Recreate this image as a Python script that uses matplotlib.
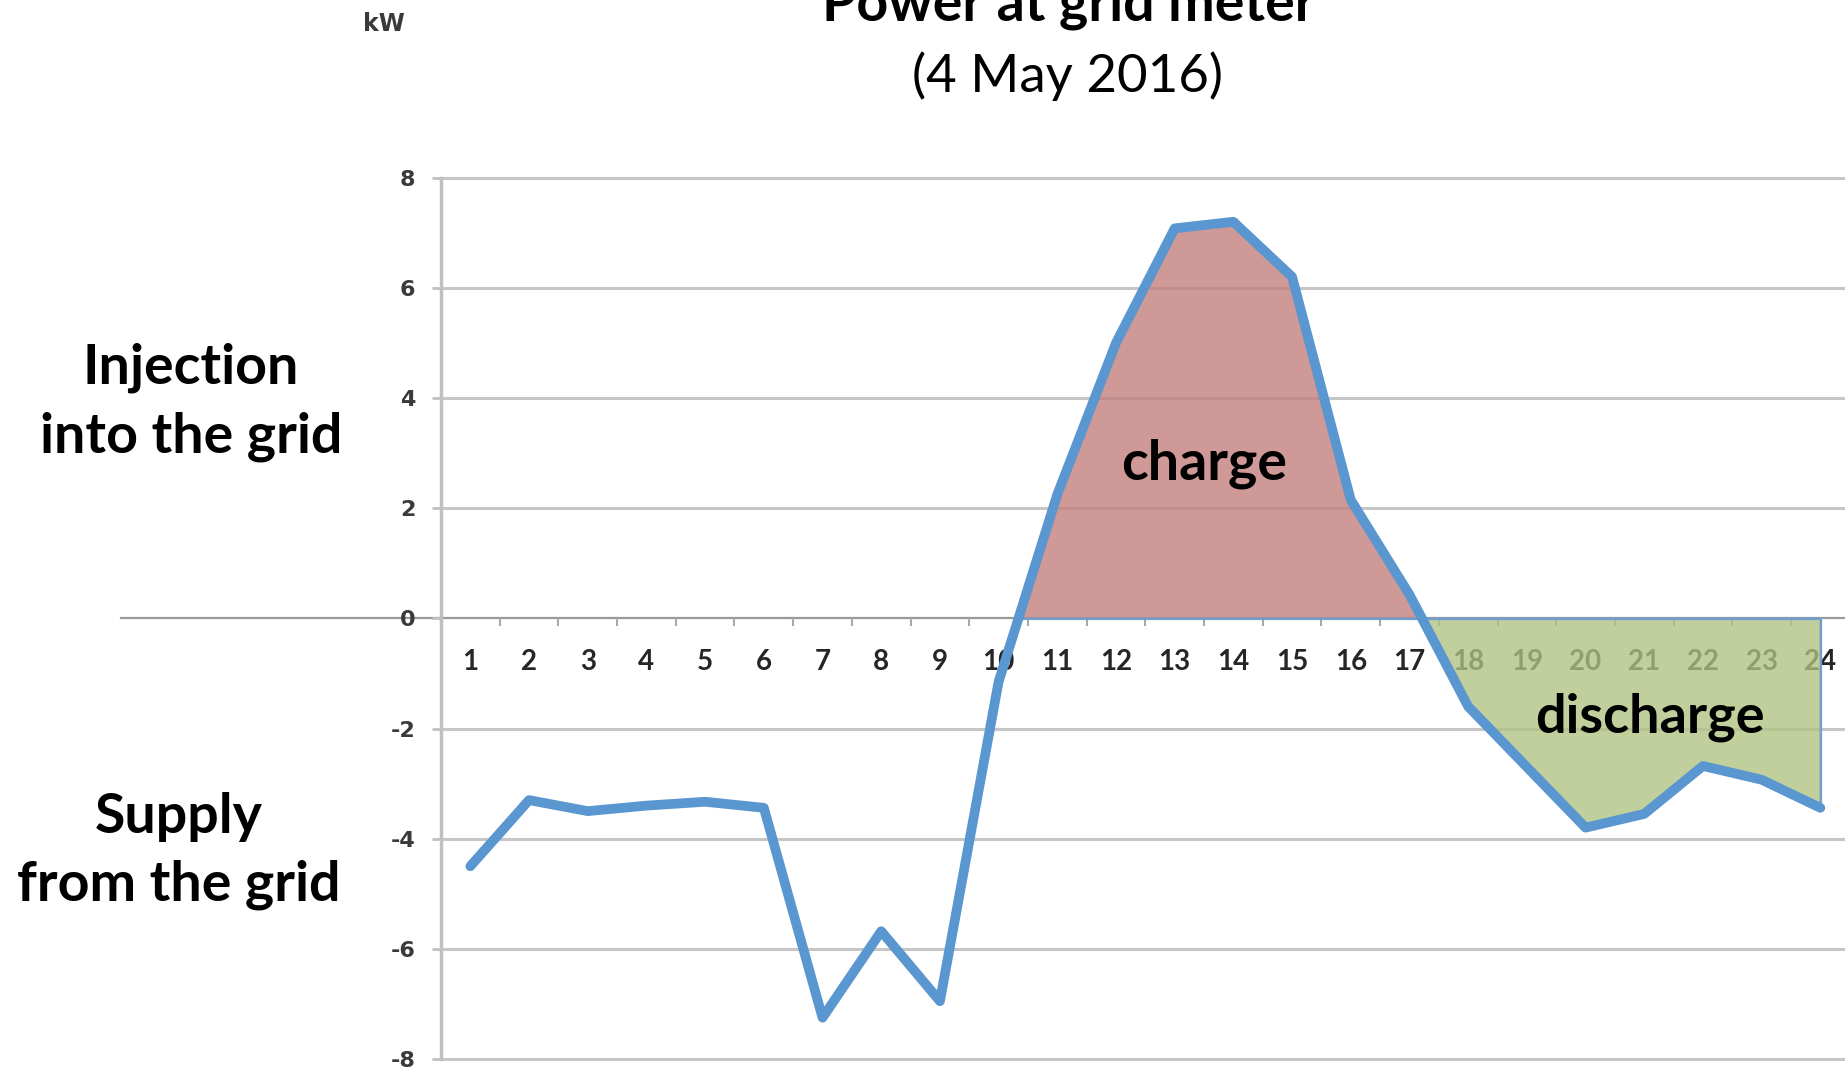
import numpy as np
import matplotlib
matplotlib.use('Agg')
import matplotlib.pyplot as plt

# hourly power at the grid meter, kW (positive = injection)
hours = np.arange(1, 25)
power = np.array([-4.5, -3.3, -3.5, -3.4, -3.33, -3.44, -7.25, -5.68, -6.95, -1.15,
                  2.25, 5.0, 7.08, 7.2, 6.2, 2.15, 0.43, -1.6, -2.7, -3.8,
                  -3.55, -2.68, -2.93, -3.44])
y_ticks = [-8, -6, -4, -2, 0, 2, 4, 6, 8]

line_blue = '#5a96cf'
grid_gray = '#c6c6c6'
font = 'Lato'

fig = plt.figure(figsize=(18.45, 10.81), dpi=100)
ax = fig.add_axes([441 / 1845, 1 - 1059 / 1081, 1 - 441 / 1845, (1059 - 177.7) / 1081])

ax.set_xlim(0.5, 24.42)
ax.set_ylim(-8, 8)

# horizontal grid (zero line drawn separately)
for v in y_ticks:
    if v != 0:
        ax.axhline(v, color=grid_gray, lw=2.2, zorder=1, clip_on=False)
ax.axhline(0, xmin=-0.228, xmax=1, color='#9a9a9a', lw=1.6, zorder=1.5, clip_on=False)

# spines / ticks
for s in ['top', 'right', 'bottom']:
    ax.spines[s].set_visible(False)
ax.spines['bottom'].set_position(('data', 0))
ax.spines['left'].set_color('#c0c0c0')
ax.spines['left'].set_linewidth(2.5)

ax.set_yticks(y_ticks)
ax.set_yticklabels([str(v) for v in y_ticks], fontsize=16, fontweight='bold',
                   family='DejaVu Sans', color='#3a3a3a')
ax.tick_params(axis='y', length=6.5, width=2, color='#c0c0c0', pad=12)

ax.set_xticks(hours - 0.5)
ax.set_xticklabels([''] * len(hours))
ax.tick_params(axis='x', length=6, width=1.5, color='#a8a8a8', direction='out')

# category labels just below zero line (under the fills)
for h in hours:
    ax.text(h, -0.8, str(h), ha='center', va='center', fontsize=20,
            fontweight='bold', family=font, color='#262626', zorder=1)

# charge / discharge areas
ax.fill_between(hours, power, 0, where=power > 0, interpolate=True,
                facecolor=(0.76, 0.49, 0.48, 0.78), edgecolor='#6f9fd0', lw=1.8, zorder=2)
after = hours >= 17
ax.fill_between(hours[after], power[after], 0, where=power[after] < 0, interpolate=True,
                facecolor=(0.69, 0.76, 0.51, 0.78), edgecolor='#6f9fd0', lw=1.8, zorder=2)

ax.plot(hours, power, color=line_blue, lw=7, solid_joinstyle='round',
        solid_capstyle='round', zorder=3)

ax.text(13.5, 2.8, 'charge', ha='center', va='center', fontsize=40,
        fontweight='bold', family=font, color='black', zorder=4)
ax.text(21.1, -1.8, 'discharge', ha='center', va='center', fontsize=39,
        fontweight='bold', family=font, color='black', zorder=4)

# titles and side labels
fig.text(1069 / 1845, 1 - 21 / 1081, 'Power at grid meter', ha='center', va='baseline',
         fontsize=40, fontweight='bold', family=font)
fig.text(1067 / 1845, 1 - 92 / 1081, '(4 May 2016)', ha='center', va='baseline',
         fontsize=38, family=font)
fig.text(384 / 1845, 1 - 24 / 1081, 'kW', ha='center', va='center', fontsize=17,
         fontweight='bold', family='DejaVu Sans', color='#3a3a3a')

fig.text(191 / 1845, 1 - 368 / 1081, 'Injection', ha='center', va='center',
         fontsize=40, fontweight='bold', family=font)
fig.text(191 / 1845, 1 - 437 / 1081, 'into the grid', ha='center', va='center',
         fontsize=40, fontweight='bold', family=font)
fig.text(179 / 1845, 1 - 817 / 1081, 'Supply', ha='center', va='center',
         fontsize=40, fontweight='bold', family=font)
fig.text(179 / 1845, 1 - 885 / 1081, 'from the grid', ha='center', va='center',
         fontsize=40, fontweight='bold', family=font)

fig.savefig('out.png', dpi=100)
